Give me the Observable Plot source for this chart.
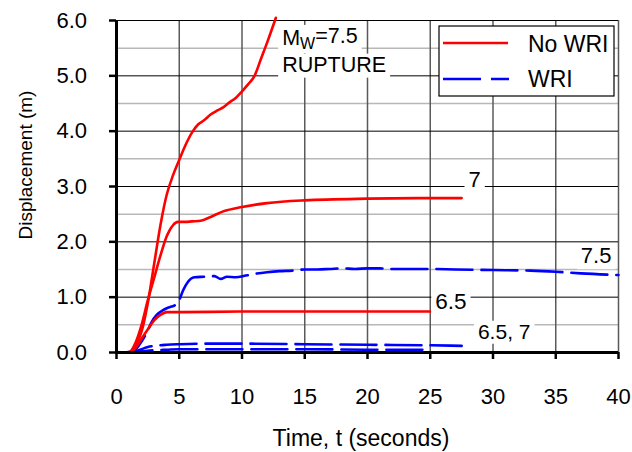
<!DOCTYPE html>
<html><head><meta charset="utf-8">
<script src="https://cdn.jsdelivr.net/npm/d3@7"></script>
<script src="https://cdn.jsdelivr.net/npm/@observablehq/plot@0.6"></script>
<style>body{margin:0;background:#fff}#chart{width:632px;height:452px}</style>
</head><body><div id="chart"></div>
<script>
// --- data ---
const red75T = [0,1,1.5,2,2.5,3,3.5,4,4.5,5,5.5,6,6.5,7,7.5,8,8.5,9,9.5,10,10.5,11,11.5,12,12.7];
const red75Y = [0,0.01,0.12,0.38,0.9,1.6,2.3,2.85,3.2,3.48,3.75,3.97,4.12,4.2,4.3,4.37,4.43,4.52,4.6,4.72,4.85,5.0,5.3,5.6,6.05];
const red7T = [0,1,1.4,2,2.5,3,3.5,4,4.5,4.9,5.5,6,6.7,7.5,8.5,10,12,15,20,25,27.5];
const red7Y = [0,0,0.12,0.5,0.95,1.35,1.75,2.1,2.3,2.36,2.36,2.37,2.38,2.45,2.55,2.63,2.7,2.75,2.78,2.79,2.79];
const red65T = [0,1,1.5,2,2.5,3,3.5,4,5,10,15,20,25];
const red65Y = [0,0,0.08,0.25,0.42,0.58,0.68,0.73,0.73,0.74,0.74,0.74,0.74];
const blue75T = [0,1,1.5,2,2.5,2.8,3.2,3.6,4,4.4,4.7,5,5.3,5.7,6.2,7,7.8,8.3,8.8,9.5,10.3,11,12,13,14,15,16,17,18,19,20,21,22,23,25,27,30,33,35,37,40];
const blue75Y = [0,0.01,0.05,0.2,0.4,0.55,0.68,0.75,0.8,0.83,0.86,0.95,1.12,1.28,1.36,1.37,1.38,1.33,1.37,1.36,1.39,1.42,1.45,1.47,1.48,1.5,1.5,1.51,1.52,1.51,1.52,1.52,1.51,1.51,1.51,1.5,1.49,1.48,1.46,1.43,1.4];
const blue7T = [0,1,1.5,2,2.5,3,4,5,7,10,15,20,25,27.5];
const blue7Y = [0,0,0.02,0.06,0.1,0.12,0.14,0.15,0.16,0.16,0.15,0.14,0.13,0.12];
const blue65T = [0,1,2,3,4,5,10,15,20,25];
const blue65Y = [0,0,0.02,0.04,0.05,0.06,0.06,0.06,0.05,0.05];

const xTicks = [0,5,10,15,20,25,30,35,40];
const yTicks = [0,1,2,3,4,5,6];
const yMinor = [0.5,1.5,2.5,3.5,4.5,5.5];

const labelText = ["Mw=7.5","RUPTURE","7","7.5","6.5","6.5, 7"];
const labelT = [13.2,13.2,28.05,37.0,25.4,28.8];
const labelY = [5.69,5.2,3.11,1.74,0.91,0.37];
const labelSize = [21.5,21.5,22,22,22.5,21];

const legendNames = ["No WRI","WRI"];

// --- build rows ---
const toRows = (ts, ys, s) => ts.map((t,i)=>({t, y: ys[i], s}));
const red = [...toRows(red75T,red75Y,"r75"),...toRows(red7T,red7Y,"r7"),...toRows(red65T,red65Y,"r65")];
const blue = [...toRows(blue75T,blue75Y,"b75"),...toRows(blue7T,blue7Y,"b7"),...toRows(blue65T,blue65Y,"b65")];
const labels = labelText.map((text,i)=>({text, t: labelT[i], y: labelY[i], size: labelSize[i]}));

const FONT = "'Liberation Sans', Arial, sans-serif";
const plot = Plot.plot({
  width: 632, height: 452,
  marginLeft: 116, marginRight: 14, marginTop: 20, marginBottom: 100,
  style: {fontFamily: FONT, fontSize: "22px", background: "#fff"},
  x: {domain: [0,40]},
  y: {domain: [0,6]},
  marks: [
    Plot.ruleY(yMinor, {stroke: "#b8b8b8", strokeWidth: 1.5}),
    Plot.ruleX(xTicks.slice(1), {stroke: "#5a5a5a", strokeWidth: 1.5}),
    Plot.ruleY(yTicks.slice(1), {stroke: "#000", strokeWidth: 1}),
    Plot.line(blue, {x: "t", y: "y", z: "s", stroke: "#0000ff", strokeWidth: 2.6, strokeDasharray: "36,9", curve: "monotone-x"}),
    Plot.line(red, {x: "t", y: "y", z: "s", stroke: "#ff0000", strokeWidth: 2.6, curve: "monotone-x"}),
    Plot.text(labels, {x: "t", y: "y", text: "text", fontSize: "size", textAnchor: "start", fill: "#000", className: "annot"}),
    Plot.ruleX([0], {stroke: "#000", strokeWidth: 3}),
    Plot.ruleY([0], {stroke: "#000", strokeWidth: 3}),
    Plot.axisX({ticks: xTicks, tickSize: 7, tickPadding: 29, strokeWidth: 2.5, fontSize: 22, label: null, tickFormat: d=>String(d)}),
    Plot.axisY({ticks: yTicks, tickSize: 7, tickPadding: 22, strokeWidth: 2.5, fontSize: 22, label: null, tickFormat: d=>d.toFixed(1)})
  ]
});
document.getElementById("chart").appendChild(plot);

const svg = d3.select(plot);

// align y tick labels so their right edge sits at x = 87
{
  const g = plot.querySelector('g[aria-label="y-axis tick label"]');
  if (g) {
    const svgBox = plot.getBoundingClientRect();
    let right = -Infinity;
    g.querySelectorAll("text").forEach(t => { right = Math.max(right, t.getBoundingClientRect().right - svgBox.left); });
    if (isFinite(right)) {
      const prev = g.getAttribute("transform") || "";
      g.setAttribute("transform", `translate(${87 - right},0) ${prev}`);
    }
  }
}

// annotation labels: subscript and white boxes
svg.selectAll(".annot text").each(function(){
  const el = d3.select(this);
  if (el.text() === "Mw=7.5") {
    el.text(null);
    el.append("tspan").text("M");
    el.append("tspan").attr("dy", "0.3em").attr("font-size", "16").text("W");
    el.append("tspan").attr("dy", "-0.3em").text("=7.5");
  }
});
svg.selectAll(".annot text").each(function(){
  const b = this.getBBox();
  const t = this.getAttribute("transform");
  const r = document.createElementNS("http://www.w3.org/2000/svg", "rect");
  r.setAttribute("x", b.x - 4); r.setAttribute("y", b.y + 1);
  r.setAttribute("width", b.width + 8); r.setAttribute("height", b.height);
  r.setAttribute("fill", "#fff");
  if (t) r.setAttribute("transform", t);
  this.parentNode.insertBefore(r, this);
});

// axis titles
svg.append("text").attr("x", 361).attr("y", 446).attr("text-anchor", "middle").attr("font-family", FONT).attr("font-size", 23).text("Time, t (seconds)");
svg.append("text").attr("transform", "translate(32,165) rotate(-90)").attr("text-anchor", "middle").attr("font-family", FONT).attr("font-size", 19).text("Displacement (m)");

// legend
const lg = svg.append("g").attr("font-family", FONT).attr("text-anchor", "start");
lg.append("rect").attr("x", 439).attr("y", 26).attr("width", 175).attr("height", 70).attr("fill", "#fff").attr("stroke", "#000").attr("stroke-width", 1.2);
lg.append("line").attr("x1", 443).attr("x2", 508).attr("y1", 43).attr("y2", 43).attr("stroke", "#ff0000").attr("stroke-width", 2.6);
lg.append("line").attr("x1", 443).attr("x2", 509).attr("y1", 79).attr("y2", 79).attr("stroke", "#0000ff").attr("stroke-width", 2.6).attr("stroke-dasharray", "38,10");
lg.append("text").attr("x", 528).attr("y", 52).attr("font-size", 23).text(legendNames[0]);
lg.append("text").attr("x", 528).attr("y", 87).attr("font-size", 23).text(legendNames[1]);
</script>
</body></html>
